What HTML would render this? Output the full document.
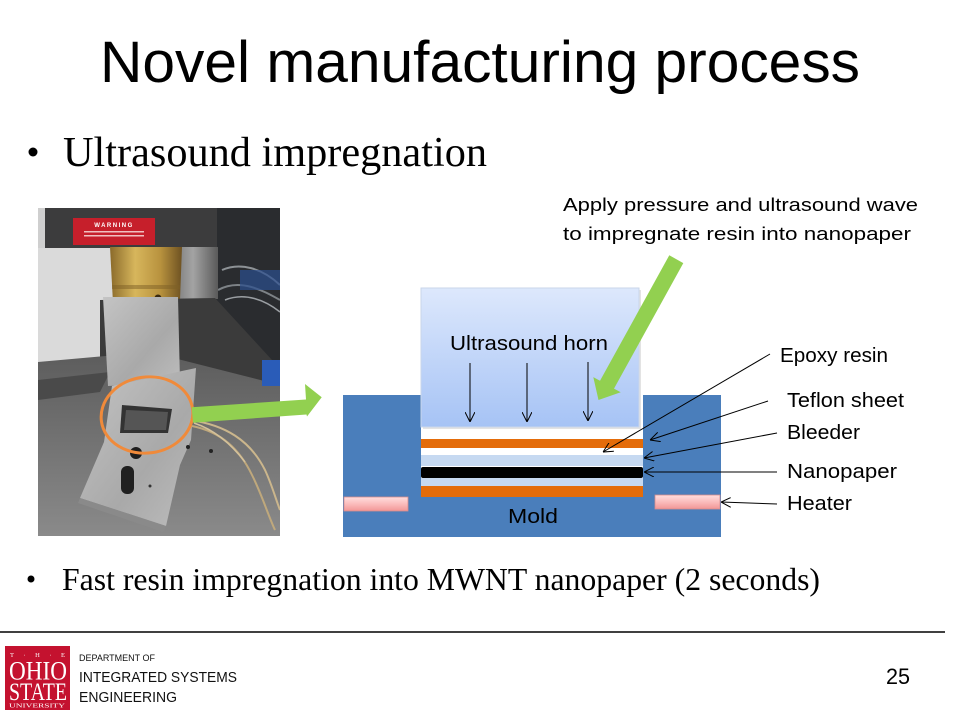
<!DOCTYPE html>
<html>
<head>
<meta charset="utf-8">
<style>
  html,body{margin:0;padding:0;background:#fff;}
  svg{display:block;}
</style>
</head>
<body>
<svg width="960" height="720" viewBox="0 0 960 720" xmlns="http://www.w3.org/2000/svg">
  <defs>
    <linearGradient id="horn" x1="0" y1="0" x2="0" y2="1">
      <stop offset="0" stop-color="#dde8fc"/>
      <stop offset="1" stop-color="#a6c3f5"/>
    </linearGradient>
    <linearGradient id="heat" x1="0" y1="0" x2="0" y2="1">
      <stop offset="0" stop-color="#ffdede"/>
      <stop offset="0.5" stop-color="#fbbcbc"/>
      <stop offset="1" stop-color="#f29696"/>
    </linearGradient>
    <linearGradient id="brass" x1="0" y1="0" x2="1" y2="0">
      <stop offset="0" stop-color="#8a6a2a"/>
      <stop offset="0.35" stop-color="#d7b65c"/>
      <stop offset="0.7" stop-color="#b8923e"/>
      <stop offset="1" stop-color="#6e5222"/>
    </linearGradient>
    <linearGradient id="alu" x1="0" y1="0" x2="1" y2="1">
      <stop offset="0" stop-color="#c4c4c4"/>
      <stop offset="0.6" stop-color="#a9a9a9"/>
      <stop offset="1" stop-color="#bdbdbd"/>
    </linearGradient>
    <linearGradient id="plate" x1="0" y1="0" x2="0" y2="1">
      <stop offset="0" stop-color="#5c5c5c"/>
      <stop offset="1" stop-color="#8a8a8a"/>
    </linearGradient>
    <linearGradient id="cyl" x1="0" y1="0" x2="1" y2="0">
      <stop offset="0" stop-color="#6d6d6d"/>
      <stop offset="0.5" stop-color="#a3a3a3"/>
      <stop offset="1" stop-color="#5a5a5a"/>
    </linearGradient>
    <clipPath id="photoclip"><rect x="38" y="208" width="242" height="328"/></clipPath>
    <marker id="ah" viewBox="0 0 10 10" refX="10" refY="5" markerWidth="10" markerHeight="10" markerUnits="userSpaceOnUse" orient="auto">
      <path d="M0,0 L10,5 L0,10" fill="none" stroke="#000" stroke-width="1"/>
    </marker>
  </defs>

  <!-- Title -->
  <text x="100" y="82" font-family="'Liberation Sans', Arial, sans-serif" font-size="58" textLength="760" lengthAdjust="spacingAndGlyphs" fill="#000">Novel manufacturing process</text>

  <!-- Bullet 1 -->
  <circle cx="33" cy="152" r="4.5" fill="#000"/>
  <text x="63" y="166" font-family="'Liberation Serif', 'Times New Roman', serif" font-size="42" textLength="424" lengthAdjust="spacingAndGlyphs" fill="#000">Ultrasound impregnation</text>

  <!-- Photo -->
  <g clip-path="url(#photoclip)">
    <rect x="38" y="208" width="242" height="328" fill="#5a5a5a"/>
    <rect x="38" y="208" width="80" height="175" fill="#dadada"/>
    <rect x="38" y="208" width="8" height="40" fill="#cfcfcf"/>
    <rect x="210" y="208" width="70" height="180" fill="#2a2c2f"/>
    <path d="M222,270 C240,262 262,268 280,285" stroke="#8d9296" stroke-width="2" fill="none"/>
    <path d="M218,290 C240,278 262,290 280,300" stroke="#7d8286" stroke-width="2" fill="none"/>
    <path d="M225,300 C245,292 265,300 280,312" stroke="#9a9ea2" stroke-width="1.5" fill="none"/>
    <rect x="240" y="270" width="40" height="20" fill="#2b4f8f" opacity="0.7"/>
    <rect x="45" y="208" width="172" height="40" fill="#3c3c3d"/>
    <rect x="73" y="218" width="82" height="27" fill="#c61f2b"/>
    <text x="114" y="227" font-family="'Liberation Sans', sans-serif" font-size="6" font-weight="bold" fill="#fff" text-anchor="middle" letter-spacing="1.5">WARNING</text>
    <rect x="84" y="231" width="60" height="1.5" fill="#f0c0c0"/>
    <rect x="84" y="235" width="60" height="1.5" fill="#f0c0c0"/>
    <rect x="168" y="247" width="50" height="52" fill="url(#cyl)"/>
    <path d="M110,247 L182,247 L180,300 L113,303 Z" fill="url(#brass)"/>
    <rect x="112" y="285" width="68" height="4" fill="#7d5f25" opacity="0.5"/>
    <circle cx="158" cy="298" r="3.5" fill="#3a2a10"/>
    <path d="M100,300 L215,298 L272,360 L272,392 L100,392 Z" fill="#3b3b3b"/>
    <path d="M38,362 L150,352 L280,385 L280,536 L38,536 Z" fill="url(#plate)"/>
    <path d="M38,380 L110,372 L100,392 L38,400 Z" fill="#4a4a4a"/>
    <path d="M103,297 L178,297 L180,382 L108,386 Z" fill="url(#alu)"/>
    <path d="M112,386 L196,368 L191,440 L180,465 L166,526 L80,498 L104,442 Z" fill="url(#alu)"/>
    <path d="M80,498 L166,526 L163,532 L78,503 Z" fill="#8a8a8a"/>
    <path d="M122,405 L172,409 L168,433 L120,433 Z" fill="#333"/>
    <path d="M126,410 L168,412 L166,430 L124,430 Z" fill="#555"/>
    <circle cx="136" cy="453" r="6" fill="#1e1e1e"/>
    <rect x="121" y="466" width="13" height="28" rx="6" fill="#202020"/>
    <circle cx="150" cy="486" r="1.5" fill="#333"/>
    <circle cx="188" cy="447" r="2" fill="#222"/>
    <circle cx="211" cy="451" r="2" fill="#222"/>
    <path d="M190,420 C225,425 250,440 265,470 C272,485 276,500 280,510" stroke="#cbb68c" stroke-width="2" fill="none"/>
    <path d="M192,426 C222,432 240,450 252,475 C262,495 268,515 275,530" stroke="#bfa87c" stroke-width="2" fill="none"/>
    <path d="M194,423 C215,430 232,445 245,462" stroke="#d4c19a" stroke-width="1.5" fill="none"/>
    <rect x="262" y="360" width="18" height="26" fill="#2a5cb8"/>
    <ellipse cx="147" cy="415" rx="46" ry="38" transform="rotate(-8 147 415)" fill="none" stroke="#f08a3a" stroke-width="3"/>
  </g>

  <!-- Photo green arrow -->
  <polygon points="191.7,407.3 306,399.5 305,384 321.7,397.3 307,416.5 306.5,414.5 193,422.7" fill="#92d050"/>

  <!-- Diagram: top label -->
  <text x="563" y="211" font-family="'Liberation Sans', Arial, sans-serif" font-size="18.5" textLength="355" lengthAdjust="spacingAndGlyphs" fill="#000">Apply pressure and ultrasound wave</text>
  <text x="563" y="240" font-family="'Liberation Sans', Arial, sans-serif" font-size="18.5" textLength="348" lengthAdjust="spacingAndGlyphs" fill="#000">to impregnate resin into nanopaper</text>

  <!-- Mold -->
  <path d="M343,395 H421 V497 H643 V395 H721 V537 H343 Z" fill="#4a7ebb"/>
  <!-- layers -->
  <rect x="421" y="439" width="222" height="9" fill="#e46c0a"/>
  <rect x="421" y="455" width="222" height="11" fill="#c6d9f1"/>
  <rect x="421" y="467" width="222" height="11" rx="2" fill="#000"/>
  <rect x="421" y="478" width="222" height="8" fill="#c6d9f1"/>
  <rect x="421" y="486" width="222" height="11" fill="#e46c0a"/>

  <!-- Horn -->
  <rect x="423" y="290" width="218" height="139" fill="#c8c8c8" opacity="0.5"/>
  <rect x="421" y="288" width="218" height="139" fill="url(#horn)" stroke="#c9d6ea" stroke-width="1"/>
  <text x="450" y="350" font-family="'Liberation Sans', Arial, sans-serif" font-size="20.5" textLength="158" lengthAdjust="spacingAndGlyphs" fill="#000">Ultrasound horn</text>
  <line x1="470" y1="363" x2="470" y2="422" stroke="#000" stroke-width="1" marker-end="url(#ah)"/>
  <line x1="527" y1="363" x2="527" y2="422" stroke="#000" stroke-width="1" marker-end="url(#ah)"/>
  <line x1="588" y1="362" x2="588" y2="421" stroke="#000" stroke-width="1" marker-end="url(#ah)"/>

  <!-- Big green arrow -->
  <polygon points="669.3,255.3 683.3,263.1 614,388.6 620.7,392.3 598.5,400 593.3,377.1 600,380.8" fill="#92d050"/>

  <!-- Heaters -->
  <rect x="344" y="497" width="64" height="14" fill="url(#heat)" stroke="#d88c8c" stroke-width="0.8"/>
  <rect x="655" y="495" width="65" height="14" fill="url(#heat)" stroke="#d88c8c" stroke-width="0.8"/>

  <text x="508" y="523" font-family="'Liberation Sans', Arial, sans-serif" font-size="20.5" textLength="50" lengthAdjust="spacingAndGlyphs" fill="#000">Mold</text>

  <!-- Leader lines -->
  <line x1="770" y1="354" x2="603" y2="452" stroke="#000" stroke-width="1" marker-end="url(#ah)"/>
  <line x1="768" y1="401" x2="650" y2="440" stroke="#000" stroke-width="1" marker-end="url(#ah)"/>
  <line x1="777" y1="433" x2="644" y2="458" stroke="#000" stroke-width="1" marker-end="url(#ah)"/>
  <line x1="777" y1="472" x2="644" y2="472" stroke="#000" stroke-width="1" marker-end="url(#ah)"/>
  <line x1="777" y1="504" x2="721" y2="502" stroke="#000" stroke-width="1" marker-end="url(#ah)"/>

  <!-- Labels -->
  <g font-family="'Liberation Sans', Arial, sans-serif" font-size="20" fill="#000">
    <text x="780" y="362" textLength="108" lengthAdjust="spacingAndGlyphs">Epoxy resin</text>
    <text x="787" y="407" textLength="117" lengthAdjust="spacingAndGlyphs">Teflon sheet</text>
    <text x="787" y="439" textLength="73" lengthAdjust="spacingAndGlyphs">Bleeder</text>
    <text x="787" y="478" textLength="110" lengthAdjust="spacingAndGlyphs">Nanopaper</text>
    <text x="787" y="510" textLength="65" lengthAdjust="spacingAndGlyphs">Heater</text>
  </g>

  <!-- Bullet 2 -->
  <circle cx="31" cy="579" r="3.5" fill="#000"/>
  <text x="62" y="590" font-family="'Liberation Serif', 'Times New Roman', serif" font-size="31.5" textLength="758" lengthAdjust="spacingAndGlyphs" fill="#000">Fast resin impregnation into MWNT nanopaper (2 seconds)</text>

  <!-- Footer -->
  <line x1="0" y1="632" x2="945" y2="632" stroke="#000" stroke-width="1.5"/>
  <rect x="5" y="646" width="65" height="64" fill="#c4122f"/>
  <text x="37.5" y="657" font-family="'Liberation Serif', serif" font-size="6.5" fill="#fff" text-anchor="middle" textLength="55" lengthAdjust="spacing">T · H · E</text>
  <text x="9" y="679.5" font-family="'Liberation Serif', serif" font-size="26" fill="#fff" textLength="58" lengthAdjust="spacingAndGlyphs">OHIO</text>
  <text x="9" y="700" font-family="'Liberation Serif', serif" font-size="25" fill="#fff" textLength="58" lengthAdjust="spacingAndGlyphs">STATE</text>
  <text x="9" y="707.5" font-family="'Liberation Serif', serif" font-size="6.5" fill="#fff" textLength="56" lengthAdjust="spacingAndGlyphs">UNIVERSITY</text>

  <g font-family="'Liberation Sans', Arial, sans-serif" fill="#111">
    <text x="79" y="661" font-size="9" textLength="76" lengthAdjust="spacingAndGlyphs">DEPARTMENT OF</text>
    <text x="79" y="682" font-size="15" textLength="158" lengthAdjust="spacingAndGlyphs">INTEGRATED SYSTEMS</text>
    <text x="79" y="702" font-size="15" textLength="98" lengthAdjust="spacingAndGlyphs">ENGINEERING</text>
  </g>

  <text x="886" y="684" font-family="'Liberation Sans', Arial, sans-serif" font-size="22" textLength="24" lengthAdjust="spacingAndGlyphs" fill="#000">25</text>
</svg>
</body>
</html>
